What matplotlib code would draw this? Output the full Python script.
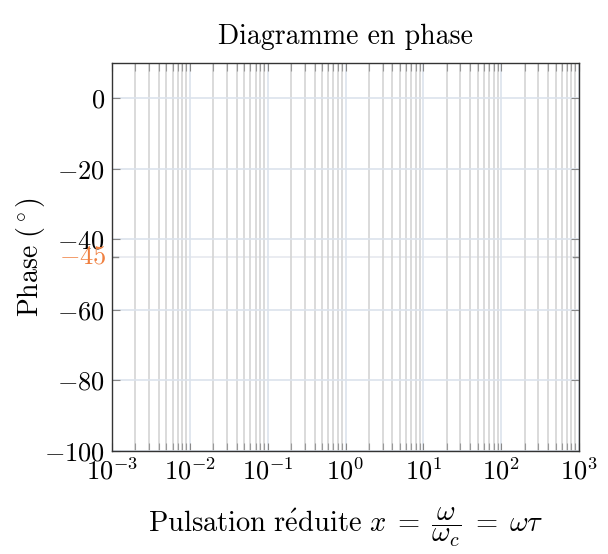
import numpy as np
import matplotlib.pyplot as plt
from matplotlib.ticker import LogLocator, FixedLocator, NullFormatter

plt.rcParams['font.family'] = 'serif'
plt.rcParams['font.serif'] = ['cmr10']
plt.rcParams['mathtext.fontset'] = 'cm'
plt.rcParams['axes.formatter.use_mathtext'] = True

# axes ranges and ticks
x_range = [1e-3, 1e3]
y_range = [-100, 10]
y_ticks = [0, -20, -40, -60, -80, -100]
y_extra = -45
x_decades = [-3, -2, -1, 0, 1, 2, 3]

fig = plt.figure(figsize=(6.08, 5.54), dpi=100)
ax = fig.add_axes([112/608, 1 - 451/554, (579-112)/608, (451-63)/554])
ax.set_xscale('log')
ax.set_xlim(x_range)
ax.set_ylim(y_range)

ax.xaxis.set_major_locator(FixedLocator([10.0**d for d in x_decades]))
ax.set_xticklabels([r'$10^{%d}$' % d for d in x_decades])
ax.xaxis.set_minor_locator(LogLocator(base=10, subs=np.arange(2, 10), numticks=20))
ax.xaxis.set_minor_formatter(NullFormatter())

ax.set_yticks(y_ticks)
ax.set_yticklabels([r'$%d$' % v for v in y_ticks])

# grids
ax.grid(which='minor', axis='x', color='#d4d4d4', lw=1.2)
ax.grid(which='major', axis='x', color='#dce3ec', lw=1.2)
ax.grid(which='major', axis='y', color='#dce3ec', lw=1.2)
ax.axhline(y_extra, color='#e6e9ef', lw=1.2, zorder=0.5)
ax.set_axisbelow(True)

ax.tick_params(which='both', direction='in', top=True, right=True,
               labelsize=19, pad=5)
ax.tick_params(which='major', length=6, color='#888888')
ax.tick_params(which='minor', length=6, color='#999999', width=0.8)
for s in ax.spines.values():
    s.set_linewidth(1.0)
    s.set_color('#333333')

ax.text(-0.012, y_extra, r'$-45$', color='#f08040', fontsize=19,
        ha='right', va='center', transform=ax.get_yaxis_transform())
ax.plot([1e-3, 10**-2.92], [y_extra, y_extra], color='#888888', lw=1)
ax.plot([10**2.92, 1e3], [y_extra, y_extra], color='#888888', lw=1)

ax.set_title('Diagramme en phase', fontsize=20, pad=14)
ax.set_xlabel(r"$\mathrm{Pulsation\ r\'{e}duite}\ x \;=\; \dfrac{\omega}{\omega_c} \;=\; \omega\tau$",
              fontsize=20.5, labelpad=15)
ax.set_ylabel(r'$\mathrm{Phase}\ (^\circ)$', fontsize=20, labelpad=-2)

fig.savefig('out.png', dpi=100)
